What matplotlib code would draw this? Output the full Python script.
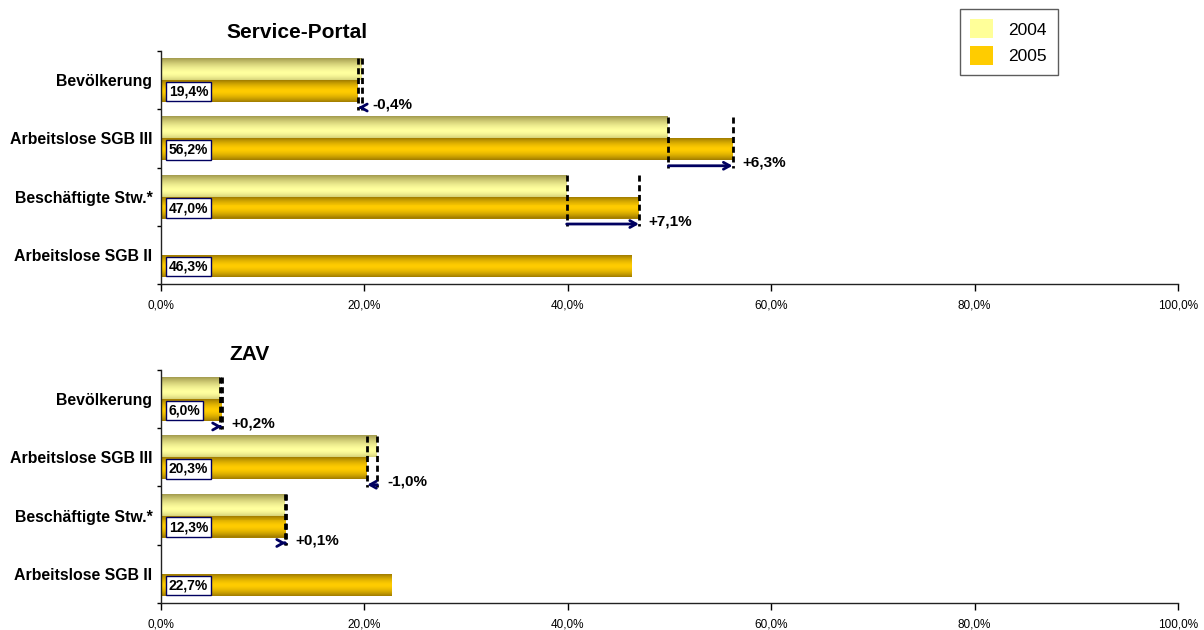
import numpy as np
import matplotlib
matplotlib.use("Agg")
import matplotlib.pyplot as plt
from matplotlib.patches import Patch
from matplotlib.ticker import MultipleLocator

plt.rcParams['font.family'] = ['Liberation Sans', 'DejaVu Sans']

# ---------------- data ----------------
categories = ["Bevölkerung", "Arbeitslose SGB III", "Beschäftigte Stw.*", "Arbeitslose SGB II"]
sp_2004 = [19.8, 49.9, 39.9, np.nan]
sp_2005 = [19.4, 56.2, 47.0, 46.3]
zav_2004 = [5.8, 21.3, 12.2, np.nan]
zav_2005 = [6.0, 20.3, 12.3, 22.7]
panel_titles = ["Service-Portal", "ZAV"]
years = ["2004", "2005"]
x_ticks = [0, 20, 40, 60, 80, 100]

# ---------------- styles ----------------
C04_DARK = np.array([0.63, 0.60, 0.30])
C04_LIGHT = np.array([1.0, 1.0, 0.62])
C05_DARK = np.array([0.62, 0.48, 0.0])
C05_LIGHT = np.array([1.0, 0.80, 0.0])
NAVY = "#000060"
BAR_H = 0.375


def grad_bar(ax, yc, width, h, dark, light, peak, bottom_min=0.0, n=22):
    if np.isnan(width):
        return
    for k in range(n):
        t = (k + 0.5) / n
        if t < peak:
            d = (peak - t) / peak
            f = 1 - d ** 1.6
        else:
            d = (t - peak) / (1 - peak)
            f = 1 - (1 - bottom_min) * d ** 1.6
        col = dark * (1 - f) + light * f
        y = yc - h / 2 + t * h
        ax.barh(y, width, height=h / n * 1.15, color=col, linewidth=0)


def fmt_pct(v, sign=False):
    s = f"{v:+.1f}%" if sign else f"{v:.1f}%"
    return s.replace('.', ',')


fig = plt.figure(figsize=(12.04, 6.3), dpi=100)
ax1 = fig.add_axes([0.1335, 0.5492, 0.845, 0.3698])
ax2 = fig.add_axes([0.1335, 0.0429, 0.845, 0.3698])

for ax, v04, v05 in [(ax1, sp_2004, sp_2005), (ax2, zav_2004, zav_2005)]:
    ypos = np.arange(len(categories))
    for i in ypos:
        grad_bar(ax, i - BAR_H / 2, v04[i], BAR_H, C04_DARK, C04_LIGHT, 0.68, bottom_min=0.55)
        grad_bar(ax, i + BAR_H / 2, v05[i], BAR_H, C05_DARK, C05_LIGHT, 0.5, bottom_min=0.0)
        # value box
        ax.text(0.8, i + BAR_H / 2 + 0.01, fmt_pct(v05[i]), fontsize=10, fontweight='bold',
                ha='left', va='center',
                bbox=dict(boxstyle='square,pad=0.2', fc='white', ec=NAVY, lw=1))
        if not np.isnan(v04[i]):
            y_top = i - BAR_H
            y_arrow = i + 0.47
            for v in (v04[i], v05[i]):
                ax.plot([v, v], [y_top, y_arrow + 0.04], color='black', lw=2.0,
                        linestyle=(0, (2.2, 1.3)), solid_capstyle='butt', zorder=5)
            ax.annotate('', xy=(v05[i], y_arrow), xytext=(v04[i], y_arrow),
                        arrowprops=dict(arrowstyle='->,head_length=0.45,head_width=0.25',
                                        color=NAVY, lw=2, shrinkA=0, shrinkB=0), zorder=6)
            ax.annotate(fmt_pct(v05[i] - v04[i], sign=True), xy=(max(v04[i], v05[i]), y_arrow),
                        xytext=(7, 2), textcoords='offset points', fontsize=11,
                        fontweight='bold', ha='left', va='center')

    ax.set_xlim(0, 100)
    ax.set_ylim(3.5, -0.5)
    ax.set_xticks(x_ticks)
    ax.set_xticklabels([fmt_pct(v) for v in x_ticks], fontsize=8.5)
    ax.set_yticks(ypos)
    ax.set_yticklabels(categories, fontsize=11.4, fontweight='bold')
    ax.yaxis.set_minor_locator(MultipleLocator(1, offset=0.5))
    ax.tick_params(axis='y', which='major', length=0, pad=6)
    ax.tick_params(axis='y', which='minor', length=3, width=1, direction='out')
    ax.tick_params(axis='x', which='major', length=5, width=1, direction='out', pad=6)
    for s in ('top', 'right'):
        ax.spines[s].set_visible(False)
    for s in ('left', 'bottom'):
        ax.spines[s].set_color('#222222')
        ax.spines[s].set_linewidth(1)

fig.text(297 / 1204, 1 - 33 / 630, panel_titles[0], fontsize=15, fontweight='bold',
         ha='center', va='center')
fig.text(250 / 1204, 1 - 354 / 630, panel_titles[1], fontsize=15, fontweight='bold',
         ha='center', va='center')

handles = [Patch(facecolor='#FFFF99', edgecolor='none', label=years[0]),
           Patch(facecolor='#FFCC00', edgecolor='none', label=years[1])]
leg = fig.legend(handles=handles, loc='upper left', bbox_to_anchor=(960 / 1204, 1 - 9 / 630),
                 fontsize=12.5, frameon=True, fancybox=False, edgecolor='#333333',
                 handlelength=1.3, handleheight=1.3, handletextpad=0.9, labelspacing=0.45,
                 borderpad=0.6, borderaxespad=0)
leg.get_frame().set_linewidth(1)

fig.savefig("out.png", dpi=100, facecolor='white')
